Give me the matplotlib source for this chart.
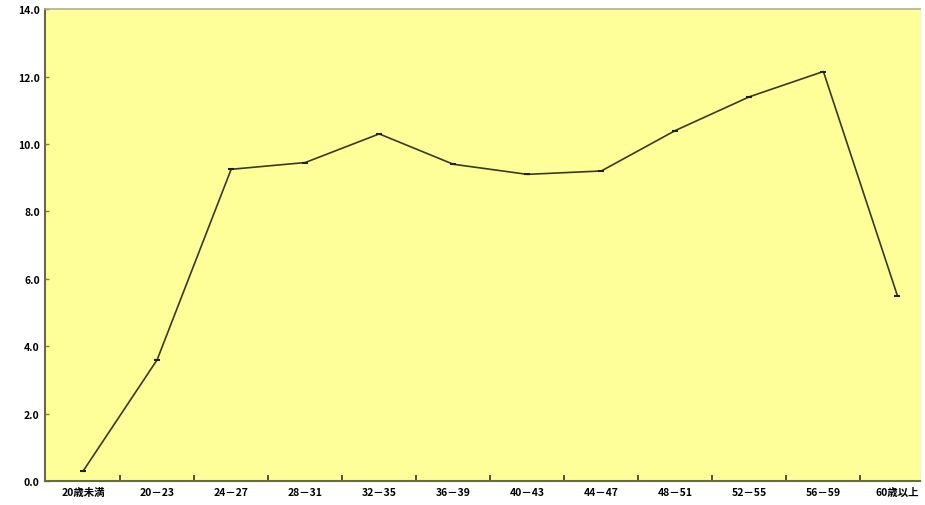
import matplotlib
matplotlib.use('Agg')
from matplotlib import pyplot as plt
import numpy as np

plt.rcParams['font.family'] = ['Noto Sans CJK JP', 'DejaVu Sans']

# 年齢区分ごとの値
labels = ['20歳未満', '20－23', '24－27', '28－31', '32－35', '36－39',
          '40－43', '44－47', '48－51', '52－55', '56－59', '60歳以上']
values = [0.3, 3.6, 9.25, 9.45, 10.3, 9.4, 9.1, 9.2, 10.4, 11.4, 12.15, 5.5]
yticks = [0.0, 2.0, 4.0, 6.0, 8.0, 10.0, 12.0, 14.0]

fig = plt.figure(figsize=(9.25, 5.06), dpi=100)
ax = fig.add_axes([0.049, 0.047, 0.946, 0.933])
ax.set_facecolor('#FFFF99')

x = np.arange(len(labels))
ax.plot(x, values, color='#3a3a20', linewidth=1.2, marker='_', markersize=4,
        markeredgewidth=1.5, markeredgecolor='#202020')

# 元の図は右端が少し切れている
ax.set_xlim(-0.51, 11.31)
ax.set_ylim(0, 14)

# x軸: 目盛は区切り位置、ラベルは中央
ax.set_xticks(x[:-1] + 0.5)
ax.set_xticklabels([])
ax.set_xticks(x, minor=True)
ax.set_xticklabels(labels, minor=True, fontsize=7.5, fontweight='bold')
ax.tick_params(axis='x', which='minor', length=0, pad=4)
ax.tick_params(axis='x', which='major', direction='in', length=4, width=1.2, color='#333333')

ax.set_yticks(yticks)
ax.set_yticklabels(['%.1f' % v for v in yticks], fontsize=7.5, fontweight='bold')
ax.tick_params(axis='y', direction='in', length=3, width=1, color='#808040', pad=4)

for side in ['left', 'bottom']:
    ax.spines[side].set_color('#6b6b40')
    ax.spines[side].set_linewidth(1.5)
ax.spines['top'].set_color('#b0b090')
ax.spines['top'].set_linewidth(1.2)
ax.spines['right'].set_color('#f4f4c0')
ax.spines['right'].set_linewidth(1)

fig.savefig('out.png', dpi=100)
